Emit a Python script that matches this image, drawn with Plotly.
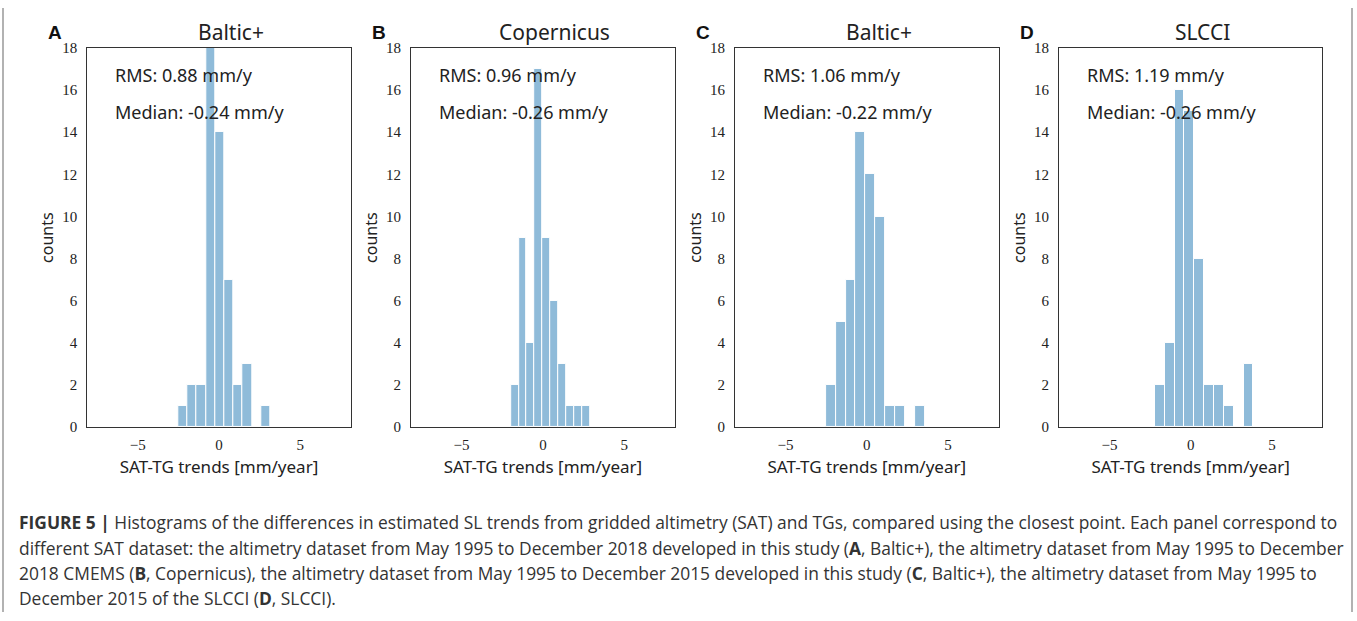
import numpy as np
import plotly.graph_objects as go

# panel data: histogram bin range and counts per panel
letters = ["A", "B", "C", "D"]
titles = ["Baltic+", "Copernicus", "Baltic+", "SLCCI"]
bin_start = [-2.51, -1.97, -2.52, -2.20]
bin_end = [3.15, 2.89, 3.56, 3.86]
counts = [
    [1, 2, 2, 21, 14, 7, 2, 3, 0, 1],
    [2, 9, 4, 17, 9, 6, 3, 1, 1, 1],
    [2, 5, 7, 14, 12, 10, 1, 1, 0, 1],
    [2, 4, 16, 15, 8, 2, 2, 1, 0, 3],
]
rms = ["0.88", "0.96", "1.06", "1.19"]
median = ["-0.24", "-0.26", "-0.22", "-0.26"]
x_ticks = [-5, 0, 5]
y_ticks = [0, 2, 4, 6, 8, 10, 12, 14, 16, 18]

caption_lines = [
    "<b>FIGURE 5 |</b> Histograms of the differences in estimated SL trends from gridded altimetry (SAT) and TGs, compared using the closest point. Each panel correspond to",
    "different SAT dataset: the altimetry dataset from May 1995 to December 2018 developed in this study (<b>A</b>, Baltic+), the altimetry dataset from May 1995 to December",
    "2018 CMEMS (<b>B</b>, Copernicus), the altimetry dataset from May 1995 to December 2015 developed in this study (<b>C</b>, Baltic+), the altimetry dataset from May 1995 to",
    "December 2015 of the SLCCI (<b>D</b>, SLCCI).",
]

W, H = 1357, 621
left0, pitch, pw = 87.3, 323.9, 263.4
top, bottom = 41, 430.3
SANS = "Noto Sans"
SERIF = "Liberation Serif"

def py(v):
    return 1 - v / H

fig = go.Figure()
layout = {}
for i in range(4):
    n = len(counts[i])
    edges = np.linspace(bin_start[i], bin_end[i], n + 1)
    centers = (edges[:-1] + edges[1:]) / 2
    width = edges[1] - edges[0]
    xa = "x" if i == 0 else f"x{i+1}"
    ya = "y" if i == 0 else f"y{i+1}"
    fig.add_trace(go.Bar(
        x=centers, y=counts[i], width=width,
        marker=dict(color="rgba(31,119,180,0.5)", line=dict(color="white", width=1)),
        xaxis=xa, yaxis=ya, showlegend=False, hoverinfo="skip",
    ))
    xl = left0 + i * pitch
    axcommon = dict(showline=True, mirror=True, linecolor="#333", linewidth=1.2,
                    showgrid=False, zeroline=False, ticks="",
                    tickfont=dict(family=SERIF, size=15, color="#222"))
    layout["xaxis" if i == 0 else f"xaxis{i+1}"] = dict(
        axcommon, domain=[xl / W, (xl + pw) / W], anchor=ya, range=[-8.1, 8.1],
        tickvals=x_ticks, ticktext=["\u22125", "0", "5"], ticklabelstandoff=4,
        title=dict(text="SAT-TG trends [mm/year]", font=dict(family=SANS, size=17, color="#222"), standoff=8),
    )
    layout["yaxis" if i == 0 else f"yaxis{i+1}"] = dict(
        axcommon, domain=[py(bottom), py(top)], anchor=xa, range=[0, 18],
        tickvals=y_ticks, ticklabelstandoff=6,
        title=dict(text="counts", font=dict(family=SANS, size=16, color="#222"), standoff=4),
    )
    fig.add_annotation(x=(xl + pw / 2 + 12) / W, y=py(25), xref="paper", yref="paper",
                       text=titles[i], showarrow=False, xanchor="center", yanchor="middle",
                       font=dict(family=SANS, size=21, color="#222"))
    fig.add_annotation(x=(xl - 41) / W, y=py(25), xref="paper", yref="paper",
                       text=f"<b>{letters[i]}</b>", showarrow=False, xanchor="left", yanchor="middle",
                       font=dict(family="Liberation Sans", size=19, color="#111"))
    fig.add_annotation(x=(xl + 25.5) / W, y=py(69), xref="paper", yref="paper",
                       text=f"RMS: {rms[i]} mm/y", showarrow=False, xanchor="left", yanchor="middle",
                       font=dict(family=SANS, size=18, color="#222"))
    fig.add_annotation(x=(xl + 25.5) / W, y=py(107), xref="paper", yref="paper",
                       text=f"Median: {median[i]} mm/y", showarrow=False, xanchor="left", yanchor="middle",
                       font=dict(family=SANS, size=18, color="#222"))

for k, line in enumerate(caption_lines):
    fig.add_annotation(x=17 / W, y=py(528 + k * 26), xref="paper", yref="paper",
                       text=line, showarrow=False, xanchor="left", yanchor="middle",
                       font=dict(family="Open Sans", size=17.4, color="#333"))

for xv in [3, 1352]:
    fig.add_shape(type="line", xref="paper", yref="paper", x0=xv / W, x1=xv / W,
                  y0=1, y1=py(620), line=dict(color="#999", width=1.5))

fig.update_layout(**layout)
fig.update_layout(width=W, height=H, margin=dict(l=0, r=0, t=0, b=0),
                  plot_bgcolor="white", paper_bgcolor="white", bargap=0)
fig.write_html("out.html", config={"displayModeBar": False},
               post_script="document.body.style.margin='0';")
